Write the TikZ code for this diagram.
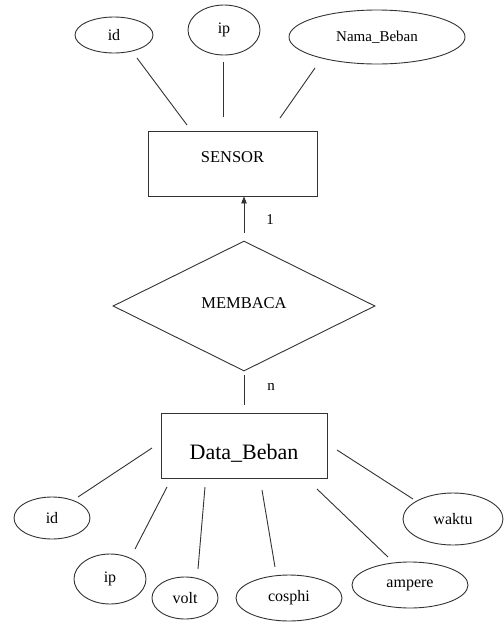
\documentclass[tikz,border=0pt]{standalone}
\usepackage{fontspec}
\setmainfont{Liberation Serif}
\usetikzlibrary{shapes.geometric,arrows.meta}
\tikzset{
  attr/.style={ellipse,draw=black!80,line width=0.9pt,inner sep=0pt,font=\fontsize{16}{19}\selectfont},
  entity/.style={rectangle,draw=black!80,line width=0.9pt,inner sep=0pt},
  rel/.style={diamond,draw=black!80,line width=0.9pt,inner sep=0pt,aspect=2,font=\fontsize{16.5}{19}\selectfont},
  conn/.style={draw=black!80,line width=0.9pt},
  lbl/.style={font=\fontsize{15}{18}\selectfont,inner sep=0pt}
}
\begin{document}
\begin{tikzpicture}[x=1pt,y=-1pt]
\useasboundingbox[fill=white] (0,0) rectangle (504,625);
% top attributes
\node[attr,minimum width=78pt,minimum height=36pt] (tid) at (114,35) {id};
\node[attr,minimum width=72pt,minimum height=50pt] (tip) at (224,30) {ip};
\node[attr,minimum width=176pt,minimum height=54pt,font=\fontsize{15}{18}\selectfont] (tnama) at (377,37) {Nama\_Beban};
% sensor entity
\node[entity,minimum width=169pt,minimum height=65pt,font=\fontsize{16.5}{19}\selectfont,text height=12pt,text depth=13.5pt] (sensor) at (232.5,163.5) {SENSOR};
% relationship
\node[rel,minimum width=262pt,minimum height=130pt,text height=11pt,text depth=6pt] (memb) at (244,306) {MEMBACA};
% data entity
\node[entity,minimum width=166pt,minimum height=65pt,font=\fontsize{22}{26}\selectfont,text height=27.6pt,text depth=0pt] (data) at (244,445.5) {Data\_Beban};
% bottom attributes
\node[attr,minimum width=76pt,minimum height=42pt] (bid) at (52,518) {id};
\node[attr,minimum width=72pt,minimum height=50pt] (bip) at (110,579) {ip};
\node[attr,minimum width=66pt,minimum height=42pt] (volt) at (185,598) {volt};
\node[attr,minimum width=106pt,minimum height=46pt] (cosphi) at (289,598) {cosphi};
\node[attr,minimum width=116pt,minimum height=46pt] (ampere) at (410,585) {ampere};
\node[attr,minimum width=100pt,minimum height=52pt] (waktu) at (453,519) {waktu};
% top connectors
\draw[conn] ([shift={(23,23)}]tid.center) -- ([shift={(-45.5,-38.5)}]sensor.center);
\draw[conn] ([shift={(-1,32)}]tip.center) -- ([shift={(-9.5,-46.5)}]sensor.center);
\draw[conn] ([shift={(-62,31)}]tnama.center) -- ([shift={(47.5,-45.5)}]sensor.center);
% relationship connectors
\draw[conn,-{Triangle[length=7pt,width=5.5pt]}] ([yshift=8pt]memb.north) -- (sensor.south -| memb.north)
  node[lbl,pos=0.35,xshift=26pt] (one) {1};
\draw[conn] ([yshift=-4pt]memb.south) -- ([yshift=8pt]data.north)
  node[lbl,pos=0.4,xshift=27pt] (many) {n};
% bottom connectors
\draw[conn] ([shift={(-92,2.5)}]data.center) -- ([shift={(26,-21)}]bid.center);
\draw[conn] ([shift={(-77,41.5)}]data.center) -- ([shift={(25,-30)}]bip.center);
\draw[conn] ([shift={(-39,41.5)}]data.center) -- ([shift={(13,-29)}]volt.center);
\draw[conn] ([shift={(18,44.5)}]data.center) -- ([shift={(-14,-31)}]cosphi.center);
\draw[conn] ([shift={(73,43.5)}]data.center) -- ([shift={(-22,-28)}]ampere.center);
\draw[conn] ([shift={(93,4.5)}]data.center) -- ([shift={(-40,-20)}]waktu.center);
\end{tikzpicture}
\end{document}
